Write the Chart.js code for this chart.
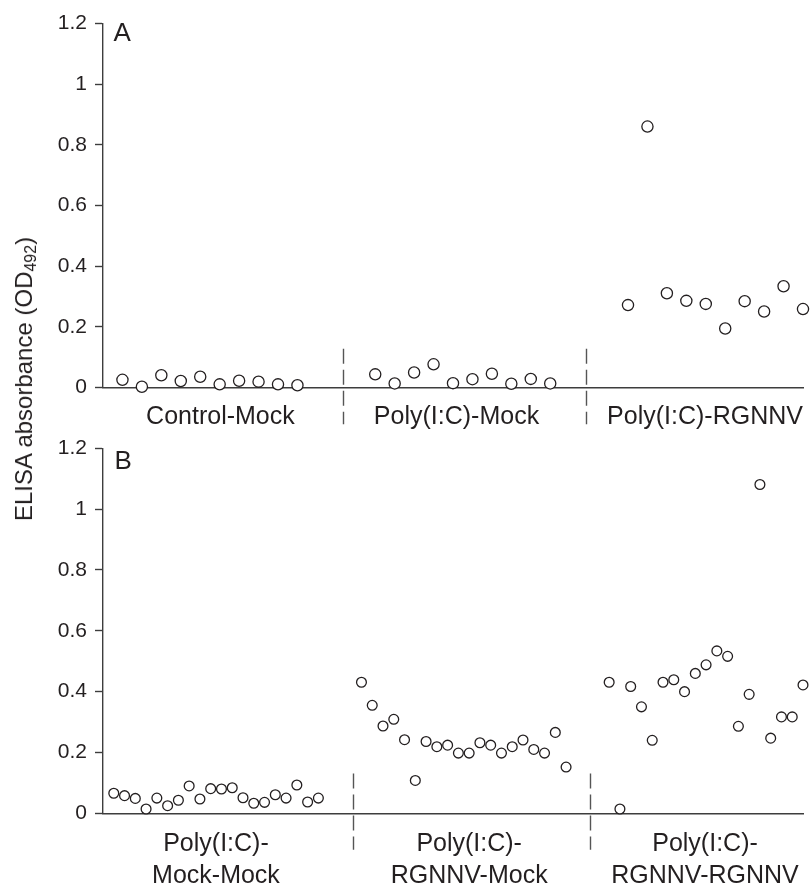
<!DOCTYPE html>
<html>
<head>
<meta charset="utf-8">
<script src="https://cdn.jsdelivr.net/npm/chart.js@4.4.1/dist/chart.umd.min.js"></script>
<style>
  html, body { margin: 0; padding: 0; background: #ffffff; }
  body { width: 811px; height: 885px; position: relative; overflow: hidden;
         font-family: "Liberation Sans", Arial, Helvetica, sans-serif; color: #231f20; }
  canvas { position: absolute; left: 0; }
  #cA { top: 0px; }
  #cB { top: 420px; }
  .panel { position: absolute; font-size: 26px; line-height: 26px; color: #231f20; }
  #ytitle { position: absolute; left: 24px; top: 379px; font-size: 24px; line-height: 24px;
            white-space: nowrap; transform: translate(-50%, -50%) rotate(-90deg); color: #231f20; }
  #ytitle sub { font-size: 16px; line-height: 0; vertical-align: -4px; }
</style>
</head>
<body>
<canvas id="cA" width="811" height="445" style="width:811px;height:445px"></canvas>
<canvas id="cB" width="811" height="465" style="width:811px;height:465px"></canvas>
<div class="panel" style="left:113.5px; top:19.3px;">A</div>
<div class="panel" style="left:114.5px; top:446.6px;">B</div>
<div id="ytitle">ELISA absorbance (OD<sub>492</sub>)</div>
<script>
// ---------- Panel A data ----------
const groupsA = ["Control-Mock", "Poly(I:C)-Mock", "Poly(I:C)-RGNNV"];
const controlMockA = [0.026, 0.003, 0.041, 0.022, 0.036, 0.011, 0.023, 0.020, 0.011, 0.008];
const polyMockA    = [0.044, 0.014, 0.050, 0.077, 0.015, 0.028, 0.046, 0.013, 0.029, 0.014];
const polyRgnnvA   = [0.272, 0.860, 0.311, 0.286, 0.276, 0.195, 0.285, 0.251, 0.334, 0.259];
const groupStartA  = [1, 14, 27];          // sample index of first fish in each group
const labelPosA    = [6.04, 18.18, 30.96]; // category label centres (sample index units)
const dividerA     = [12.33, 24.82];       // dashed separators (sample index units)
const xMaxA = 36;

// ---------- Panel B data ----------
const groupsB = [["Poly(I:C)-", "Mock-Mock"], ["Poly(I:C)-", "RGNNV-Mock"], ["Poly(I:C)-", "RGNNV-RGNNV"]];
const mockMockB   = [0.066, 0.058, 0.049, 0.014, 0.050, 0.025, 0.043, 0.090, 0.047, 0.081,
                     0.080, 0.084, 0.051, 0.033, 0.036, 0.061, 0.050, 0.093, 0.037, 0.050];
const rgnnvMockB  = [0.431, 0.355, 0.287, 0.309, 0.242, 0.108, 0.236, 0.219, 0.224, 0.198,
                     0.198, 0.232, 0.224, 0.198, 0.219, 0.241, 0.210, 0.198, 0.266, 0.152];
const rgnnvRgnnvB = [0.431, 0.014, 0.417, 0.350, 0.240, 0.431, 0.439, 0.400, 0.460, 0.488,
                     0.534, 0.516, 0.286, 0.391, 1.081, 0.247, 0.317, 0.317, 0.422];
const groupStartB = [1, 24, 47];
const labelPosB   = [10.49, 34.0, 55.9];
const dividerB    = [23.21, 45.22];
const xMaxB = 65;

// ---------- shared axis ----------
const yTicks = [0, 0.2, 0.4, 0.6, 0.8, 1, 1.2];
const FONT = '"Liberation Sans", Arial, Helvetica, sans-serif';
const INK = '#231f20';
const AXIS = '#3d3d3d';

function toPoints(values, start) {
  return values.map((v, i) => ({ x: start + i, y: v }));
}

const dividerPlugin = {
  id: 'dividers',
  afterDatasetsDraw(chart, args, opts) {
    const { ctx, scales: { x, y } } = chart;
    const y0 = y.getPixelForValue(0);
    ctx.save();
    ctx.strokeStyle = '#555555';
    ctx.lineWidth = 1.4;
    ctx.setLineDash([15, 6]);
    opts.positions.forEach(p => {
      const px = Math.round(x.getPixelForValue(p)) + 0.5;
      ctx.beginPath();
      ctx.moveTo(px, y.getPixelForValue(opts.top));
      ctx.lineTo(px, y0 + opts.below);
      ctx.stroke();
    });
    ctx.restore();
  }
};

function makeChart(id, sets, radius, xMax, labelPos, labels, dividers, divTop, padTop, xHeight, lineHeight, labelPad) {
  return new Chart(document.getElementById(id), {
    type: 'scatter',
    data: {
      datasets: sets.map(s => ({
        data: s,
        pointStyle: 'circle',
        pointRadius: radius,
        pointHoverRadius: radius,
        pointBorderWidth: 1.3,
        pointBorderColor: INK,
        pointBackgroundColor: '#ffffff',
        showLine: false,
        clip: false
      }))
    },
    options: {
      responsive: false,
      animation: false,
      devicePixelRatio: 1,
      layout: { padding: { top: padTop, right: 8, left: 0, bottom: 0 } },
      plugins: {
        legend: { display: false },
        tooltip: { enabled: false },
        dividers: { positions: dividers, top: divTop, below: 36.5 }
      },
      scales: {
        x: {
          type: 'linear',
          min: 0, max: xMax,
          afterBuildTicks: (axis) => { axis.ticks = labelPos.map(v => ({ value: v })); },
          afterFit: (axis) => { axis.height = xHeight; axis.paddingLeft = 0; axis.paddingRight = 0; },
          grid: { display: false, drawTicks: false },
          border: { display: true, color: AXIS, width: 1.4 },
          ticks: {
            autoSkip: false, maxRotation: 0, minRotation: 0, padding: labelPad,
            color: INK,
            font: { family: FONT, size: 25, lineHeight: lineHeight },
            callback: (v, i) => labels[i]
          }
        },
        y: {
          min: 0, max: 1.2,
          afterBuildTicks: (axis) => { axis.ticks = yTicks.map(v => ({ value: v })); },
          afterFit: (axis) => { axis.width = 103; },
          grid: { display: true, drawOnChartArea: false, drawTicks: true, tickLength: 8,
                  tickColor: AXIS, tickWidth: 1.4, color: AXIS },
          border: { display: true, color: AXIS, width: 1.4 },
          ticks: {
            padding: 8, color: INK,
            font: { family: FONT, size: 21 },
            callback: (v) => String(+Number(v).toFixed(1))
          }
        }
      }
    },
    plugins: [dividerPlugin]
  });
}

makeChart('cA',
  [toPoints(controlMockA, groupStartA[0]), toPoints(polyMockA, groupStartA[1]), toPoints(polyRgnnvA, groupStartA[2])],
  5.6, xMaxA, labelPosA, groupsA, dividerA, 0.128, 23.3, 57.3, 1.2, 14.5);

makeChart('cB',
  [toPoints(mockMockB, groupStartB[0]), toPoints(rgnnvMockB, groupStartB[1]), toPoints(rgnnvRgnnvB, groupStartB[2])],
  4.9, xMaxB, labelPosB, groupsB, dividerB, 0.131, 28.3, 71.7, 1.268, 15);
</script>
</body>
</html>
